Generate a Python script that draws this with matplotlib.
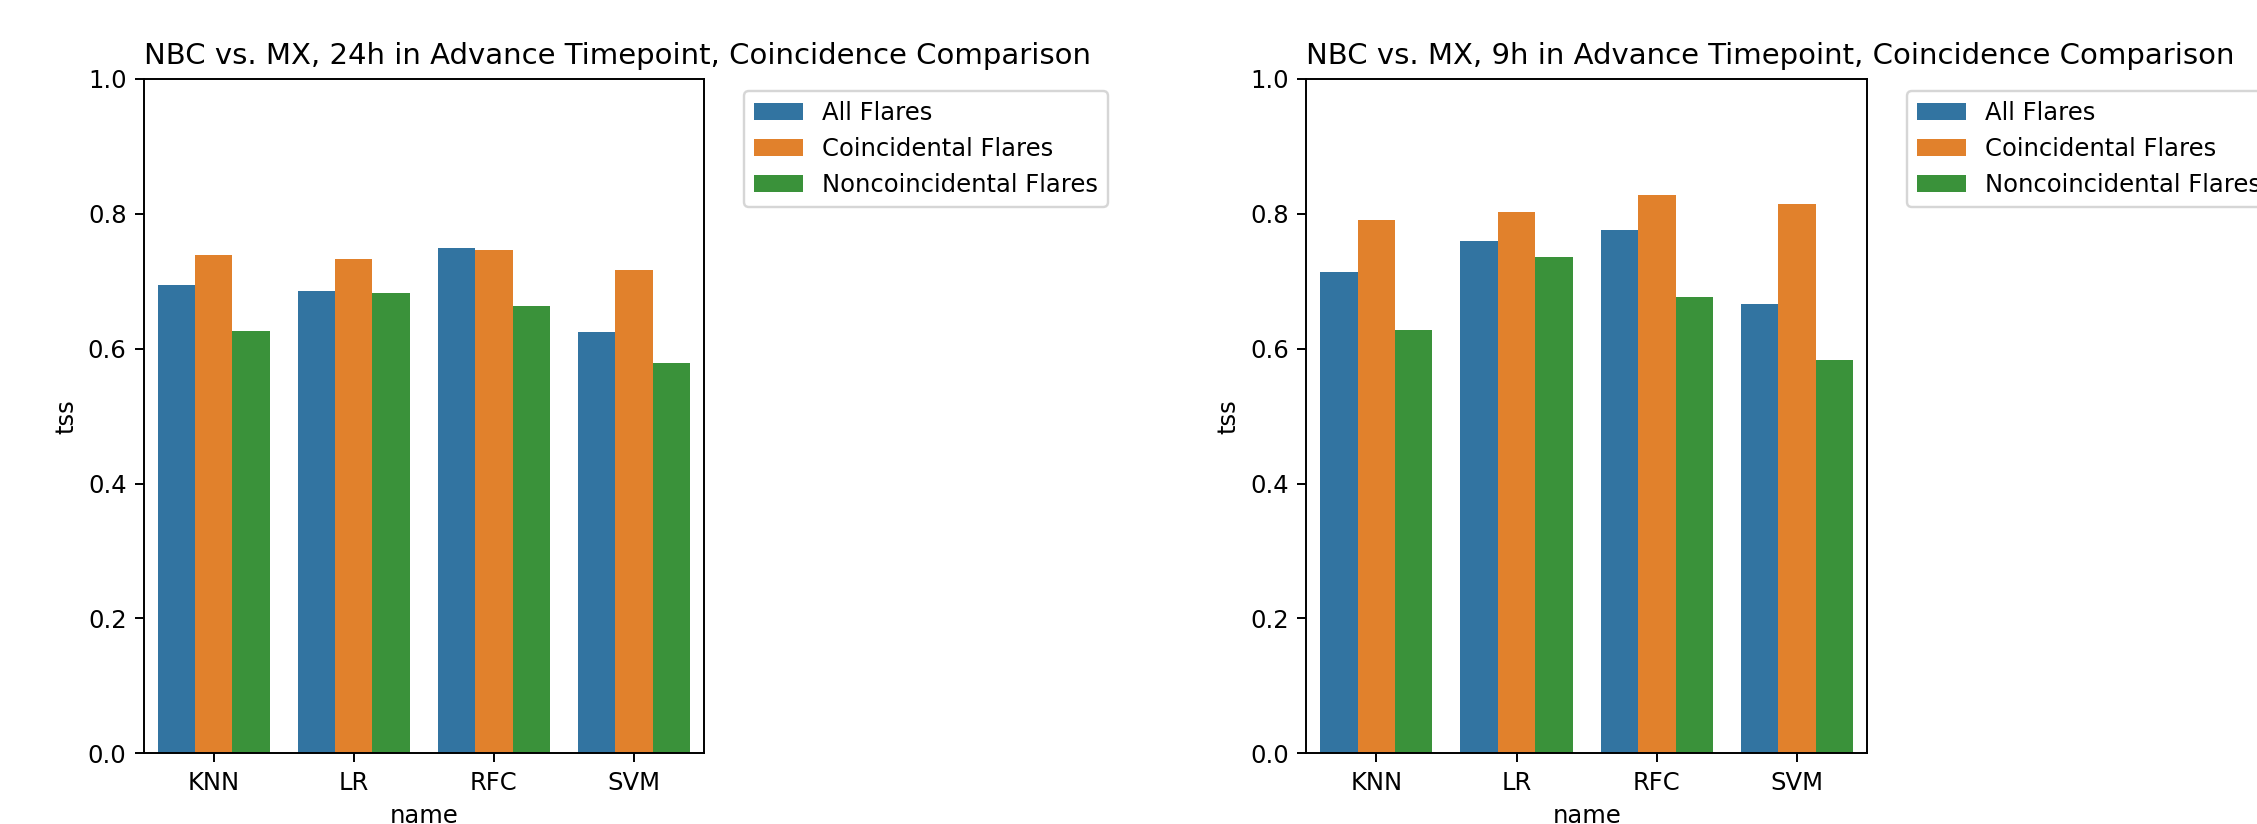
import pandas as pd
import seaborn as sns
import matplotlib
matplotlib.use("Agg")
import matplotlib.pyplot as plt

# models and flare subsets
names = ["KNN", "LR", "RFC", "SVM"]
subsets = ["All Flares", "Coincidental Flares", "Noncoincidental Flares"]

# TSS (rows = subsets, cols = models)
tss_24h = [
    [0.694, 0.686, 0.749, 0.624],
    [0.738, 0.733, 0.746, 0.717],
    [0.626, 0.683, 0.663, 0.579],
]
tss_9h = [
    [0.713, 0.760, 0.775, 0.666],
    [0.791, 0.803, 0.827, 0.815],
    [0.627, 0.736, 0.676, 0.583],
]

titles = [
    "NBC vs. MX, 24h in Advance Timepoint, Coincidence Comparison",
    "NBC vs. MX, 9h in Advance Timepoint, Coincidence Comparison",
]


def to_frame(vals):
    rows = []
    for s, row in zip(subsets, vals):
        for n, v in zip(names, row):
            rows.append({"name": n, "tss": v, "type": s})
    return pd.DataFrame(rows)


dpi = 175
# small pad so the pixel size does not round down
fig = plt.figure(figsize=(2257.3 / dpi, 824.3 / dpi), dpi=dpi)
ax1 = fig.add_axes([0.0636, 0.0856, 0.2483, 0.8186])
ax2 = fig.add_axes([0.5786, 0.0856, 0.2486, 0.8186])

for ax, vals, title in zip([ax1, ax2], [tss_24h, tss_9h], titles):
    df = to_frame(vals)
    sns.barplot(data=df, x="name", y="tss", hue="type", ax=ax)
    ax.set_ylim(0, 1.0)
    ax.set_title(title, loc="left")
    ax.legend(bbox_to_anchor=(1.05, 1), loc="upper left")

fig.savefig("out.png", dpi=dpi)
